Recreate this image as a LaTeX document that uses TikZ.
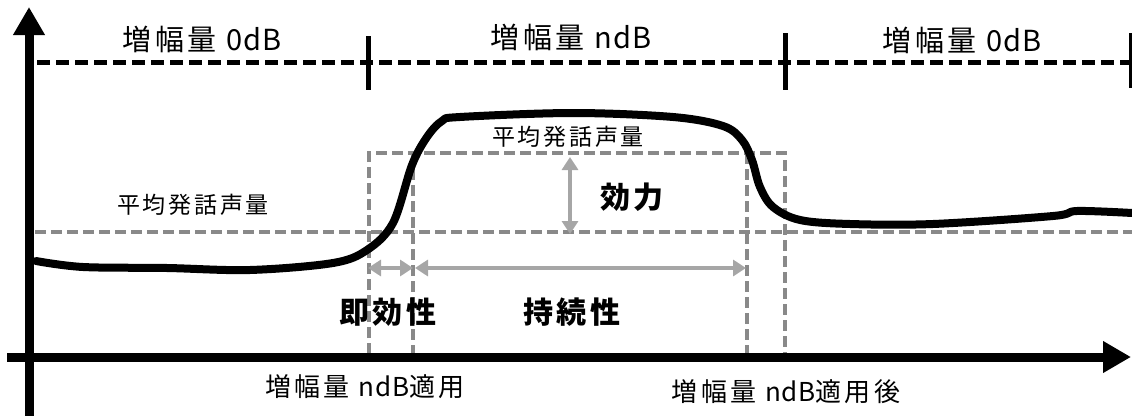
\documentclass[tikz,border=0pt]{standalone}
\usepackage{fontspec}
\setmainfont{Noto Sans CJK JP}
\newfontfamily\jp[LetterSpace=12]{Noto Sans CJK JP}
\newfontfamily\lat[LetterSpace=3]{Noto Sans CJK JP}
\usetikzlibrary{arrows.meta}
\definecolor{dgray}{RGB}{137,137,137}
\definecolor{agray}{RGB}{166,166,166}
\begin{document}
\begin{tikzpicture}[x=1pt,y=-1pt,
  axisline/.style={line width=9pt,-{Triangle[length=28pt,width=30pt]}},
  levelline/.style={line width=5pt,dash pattern=on 13pt off 6pt},
  tickline/.style={line width=5pt},
  guide/.style={draw=dgray,line width=3.5pt,dash pattern=on 11pt off 5pt},
  span/.style={draw=agray,line width=3.8pt,{Triangle[length=13pt,width=16pt]}-{Triangle[length=13pt,width=16pt]}},
  curve/.style={line width=8pt,line join=round,line cap=round},
  toplab/.style={inner sep=0pt,font=\jp\fontsize{29}{34}\selectfont},
  smalllab/.style={inner sep=0pt,font=\jp\fontsize{23}{28}\selectfont},
  boldlab/.style={inner sep=0pt,font=\jp\bfseries\fontsize{30}{35}\selectfont},
  botlab/.style={inner sep=0pt,font=\jp\fontsize{26}{31}\selectfont}]
\useasboundingbox (0,0) rectangle (1132,415);

% coordinates
\coordinate (yb) at (29,420);
\coordinate (yt) at (29,7);
\coordinate (xl) at (7,357);
\coordinate (xr) at (1131,357);
\coordinate (ll) at (37,62.5);
\coordinate (lr) at (1132,62.5);
\coordinate (t1a) at (368,36); \coordinate (t1b) at (368,90);
\coordinate (t2a) at (785,33); \coordinate (t2b) at (785,90);
\coordinate (t3a) at (1131,33); \coordinate (t3b) at (1131,88);
\coordinate (gl) at (35,232);
\coordinate (gr) at (1132,232);
\coordinate (r1) at (369,354);
\coordinate (r2) at (369,153);
\coordinate (r3) at (785,153);
\coordinate (r4) at (785,354);
\coordinate (v1a) at (413,153); \coordinate (v1b) at (413,354);
\coordinate (v2a) at (747,153); \coordinate (v2b) at (747,354);
\coordinate (ea) at (570,157); \coordinate (eb) at (570,234);
\coordinate (sa) at (368,268); \coordinate (sb) at (413,268);
\coordinate (pa) at (415,268); \coordinate (pb) at (746,268);

% gray guides
\draw[guide] (gl) -- (gr);
\draw[guide] (r1) -- (r2) -- (r3) -- (r4);
\draw[guide] (v1a) -- (v1b);
\draw[guide] (v2a) -- (v2b);

% gray arrows
\draw[span] (ea) -- (eb);
\draw[span] (sa) -- (sb);
\draw[span] (pa) -- (pb);

% level line
\draw[levelline] (ll) -- (lr);
\draw[tickline] (t1a) -- (t1b);
\draw[tickline] (t2a) -- (t2b);
\draw[tickline] (t3a) -- (t3b);

% curve
\draw[curve] plot[smooth,tension=0.55] coordinates {
 (36,261) (83,267) (167,268) (250,270) (333,263) (367,250) (393,223)
 (412,165) (427,137) (442,121) (460,117) (573,113) (673,117) (723,126)
 (742,140) (752,160) (760,187) (773,207) (800,220) (850,224) (933,224)
 (1053,216) (1077,211) (1132,213)};

% axes
\draw[axisline] (yb) -- (yt);
\draw[axisline] (xl) -- (xr);

% labels
\node[toplab] (l1) at (202,39) {増幅量 {\lat 0dB}};
\node[toplab] (l2) at (571,37) {増幅量 {\lat ndB}};
\node[toplab] (l3) at (962,40) {増幅量 {\lat 0dB}};
\node[smalllab] (a1) at (568,137) {平均発話声量};
\node[smalllab] (a2) at (193,205) {平均発話声量};
\node[boldlab] (k1) at (632,197) {効力};
\node[boldlab] (k2) at (388,312) {即効性};
\node[boldlab] (k3) at (572,312) {持続性};
\node[botlab] (b1) at (365,387) {増幅量 {\lat ndB}適用};
\node[botlab] (b2) at (786,392) {増幅量 {\lat ndB}適用後};
\end{tikzpicture}
\end{document}
